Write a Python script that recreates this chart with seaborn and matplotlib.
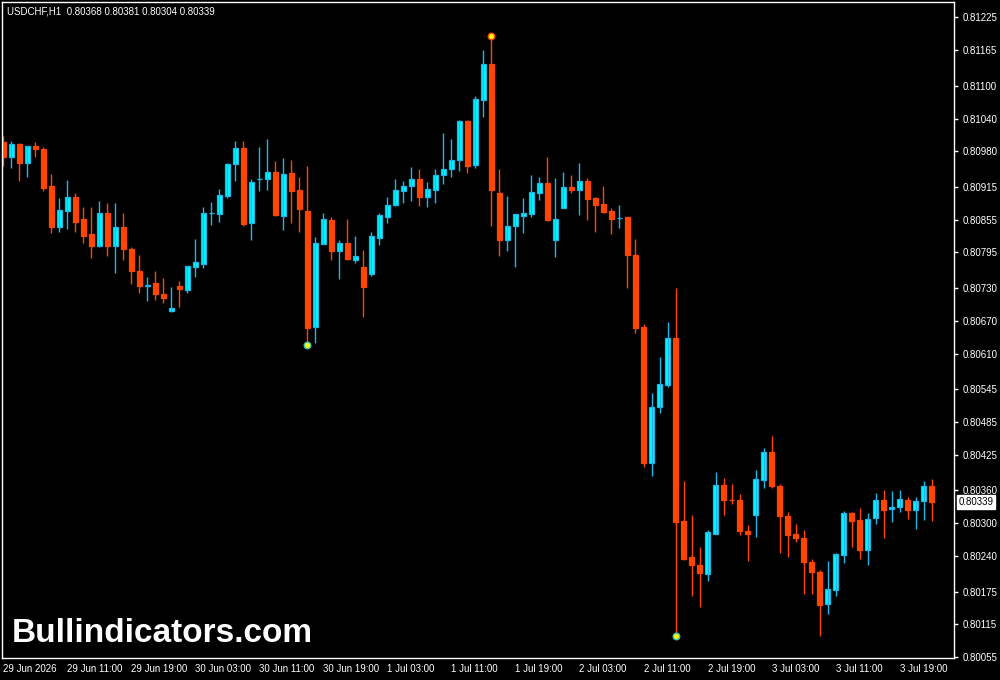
import numpy as np
import pandas as pd
import matplotlib
matplotlib.use("Agg")
import matplotlib.pyplot as plt
import seaborn as sns

# USDCHF H1 candles, 29 Jun 03:00 -> 3 Jul 23:00
symbol = "USDCHF,H1"
first_bar = "2026-06-29 03:00"

opens = [0.80997, 0.80969, 0.80994, 0.80959, 0.80989, 0.80985, 0.80916, 0.80842, 0.80871, 0.80896,
         0.80856, 0.80828, 0.80807, 0.80867, 0.80807, 0.80841, 0.80801, 0.80762, 0.80734, 0.80739,
         0.80720, 0.80688, 0.80733, 0.80727, 0.80769, 0.80774, 0.80867, 0.80865, 0.80898, 0.80957,
         0.80986, 0.80849, 0.80929, 0.80929, 0.80942, 0.80862, 0.80940, 0.80909, 0.80870, 0.80659,
         0.80811, 0.80854, 0.80798, 0.80812, 0.80782, 0.80768, 0.80756, 0.80822, 0.80860, 0.80882,
         0.80908, 0.80917, 0.80929, 0.80897, 0.80909, 0.80937, 0.80948, 0.80964, 0.81035, 0.80955,
         0.81074, 0.81139, 0.80903, 0.80818, 0.80844, 0.80862, 0.80865, 0.80904, 0.80922, 0.80818,
         0.80876, 0.80914, 0.80909, 0.80925, 0.80895, 0.80883, 0.80870, 0.80858, 0.80859, 0.80790,
         0.80658, 0.80410, 0.80513, 0.80552, 0.80638, 0.80304, 0.80238, 0.80223, 0.80207, 0.80280,
         0.80369, 0.80343, 0.80343, 0.80286, 0.80315, 0.80379, 0.80431, 0.80368, 0.80313, 0.80281,
         0.80273, 0.80229, 0.80211, 0.80152, 0.80178, 0.80242, 0.80318, 0.80305, 0.80251, 0.80310,
         0.80343, 0.80326, 0.80330, 0.80343, 0.80324, 0.80341, 0.80368]
highs = [0.81008, 0.80998, 0.80996, 0.80990, 0.80997, 0.80987, 0.80938, 0.80894, 0.80927, 0.80903,
         0.80878, 0.80878, 0.80889, 0.80885, 0.80885, 0.80867, 0.80805, 0.80790, 0.80750, 0.80761,
         0.80748, 0.80731, 0.80742, 0.80770, 0.80819, 0.80878, 0.80887, 0.80912, 0.80958, 0.80998,
         0.80998, 0.80930, 0.80987, 0.81002, 0.80962, 0.80967, 0.80965, 0.80933, 0.80954, 0.80823,
         0.80868, 0.80859, 0.80817, 0.80856, 0.80826, 0.80799, 0.80832, 0.80867, 0.80896, 0.80929,
         0.80925, 0.80951, 0.80947, 0.80923, 0.80947, 0.81013, 0.81002, 0.81037, 0.81037, 0.81081,
         0.81166, 0.81190, 0.80947, 0.80898, 0.80865, 0.80894, 0.80936, 0.80933, 0.80969, 0.80931,
         0.80942, 0.80936, 0.80958, 0.80931, 0.80896, 0.80916, 0.80876, 0.80881, 0.80859, 0.80819,
         0.80664, 0.80538, 0.80603, 0.80667, 0.80730, 0.80377, 0.80315, 0.80256, 0.80287, 0.80393,
         0.80382, 0.80371, 0.80353, 0.80296, 0.80397, 0.80437, 0.80459, 0.80371, 0.80320, 0.80298,
         0.80287, 0.80235, 0.80215, 0.80230, 0.80245, 0.80322, 0.80320, 0.80327, 0.80318, 0.80355,
         0.80360, 0.80358, 0.80360, 0.80348, 0.80348, 0.80378, 0.80381]
lows = [0.80953, 0.80950, 0.80926, 0.80933, 0.80970, 0.80908, 0.80831, 0.80833, 0.80838, 0.80833,
        0.80812, 0.80785, 0.80805, 0.80789, 0.80758, 0.80781, 0.80737, 0.80721, 0.80706, 0.80708,
        0.80703, 0.80687, 0.80695, 0.80721, 0.80750, 0.80767, 0.80845, 0.80851, 0.80895, 0.80926,
        0.80844, 0.80817, 0.80908, 0.80909, 0.80861, 0.80837, 0.80849, 0.80833, 0.80625, 0.80630,
        0.80811, 0.80781, 0.80747, 0.80781, 0.80776, 0.80677, 0.80752, 0.80809, 0.80849, 0.80880,
        0.80886, 0.80889, 0.80880, 0.80878, 0.80886, 0.80920, 0.80933, 0.80944, 0.80940, 0.80950,
        0.81043, 0.80844, 0.80789, 0.80798, 0.80769, 0.80831, 0.80860, 0.80891, 0.80853, 0.80787,
        0.80876, 0.80904, 0.80864, 0.80854, 0.80833, 0.80867, 0.80829, 0.80840, 0.80730, 0.80648,
        0.80403, 0.80386, 0.80502, 0.80549, 0.80093, 0.80233, 0.80167, 0.80147, 0.80195, 0.80280,
        0.80315, 0.80335, 0.80279, 0.80231, 0.80275, 0.80364, 0.80364, 0.80246, 0.80238, 0.80266,
        0.80171, 0.80171, 0.80094, 0.80134, 0.80167, 0.80227, 0.80257, 0.80235, 0.80224, 0.80299,
        0.80273, 0.80302, 0.80321, 0.80308, 0.80290, 0.80306, 0.80304]
closes = [0.80970, 0.80994, 0.80959, 0.80989, 0.80984, 0.80913, 0.80842, 0.80872, 0.80896, 0.80851,
          0.80825, 0.80807, 0.80867, 0.80807, 0.80841, 0.80801, 0.80761, 0.80734, 0.80735, 0.80719,
          0.80712, 0.80693, 0.80728, 0.80770, 0.80777, 0.80867, 0.80867, 0.80900, 0.80956, 0.80986,
          0.80848, 0.80923, 0.80929, 0.80942, 0.80863, 0.80938, 0.80907, 0.80874, 0.80656, 0.80812,
          0.80856, 0.80798, 0.80812, 0.80783, 0.80788, 0.80732, 0.80825, 0.80863, 0.80881, 0.80909,
          0.80916, 0.80929, 0.80897, 0.80911, 0.80936, 0.80947, 0.80964, 0.81035, 0.80953, 0.81075,
          0.81139, 0.80909, 0.80818, 0.80844, 0.80865, 0.80867, 0.80905, 0.80922, 0.80854, 0.80857,
          0.80914, 0.80909, 0.80925, 0.80893, 0.80882, 0.80869, 0.80856, 0.80858, 0.80790, 0.80657,
          0.80410, 0.80512, 0.80554, 0.80638, 0.80302, 0.80234, 0.80223, 0.80209, 0.80283, 0.80369,
          0.80343, 0.80342, 0.80286, 0.80280, 0.80380, 0.80431, 0.80368, 0.80313, 0.80279, 0.80273,
          0.80229, 0.80211, 0.80151, 0.80179, 0.80243, 0.80318, 0.80304, 0.80251, 0.80307, 0.80343,
          0.80324, 0.80330, 0.80345, 0.80324, 0.80340, 0.80368, 0.80339]

# bars flagged by the swing-point indicator
swing_high_bars = [61]
swing_low_bars = [38, 84]

price_ticks = [0.81225, 0.81165, 0.81100, 0.81040, 0.80980, 0.80915, 0.80855, 0.80795, 0.80730, 0.80670,
               0.80610, 0.80545, 0.80485, 0.80425, 0.80360, 0.80300, 0.80240, 0.80175, 0.80115, 0.80055]
time_tick_labels = ["29 Jun 2026", "29 Jun 11:00", "29 Jun 19:00", "30 Jun 03:00", "30 Jun 11:00",
                    "30 Jun 19:00", "1 Jul 03:00", "1 Jul 11:00", "1 Jul 19:00", "2 Jul 03:00",
                    "2 Jul 11:00", "2 Jul 19:00", "3 Jul 03:00", "3 Jul 11:00", "3 Jul 19:00"]
watermark = "Bullindicators.com"

df = pd.DataFrame({"time": pd.date_range(first_bar, periods=len(opens), freq="h"),
                   "open": opens, "high": highs, "low": lows, "close": closes})
df["pos"] = np.arange(len(df))
df["bull"] = df["close"] >= df["open"]

BULL = "#00ffff"
BULL_EDGE = "#1ab8e8"
BEAR = "#ff4500"

sns.set_style("dark", {"axes.facecolor": "black", "figure.facecolor": "black",
                       "axes.edgecolor": "white", "text.color": "white",
                       "xtick.color": "white", "ytick.color": "white"})
plt.rcParams["font.family"] = ["Liberation Sans", "DejaVu Sans"]

fig = plt.figure(figsize=(10, 6.8), dpi=100)
ax = fig.add_axes([0.0023, 0.032, 0.9517, 0.965])

wick_cols = np.where(df["bull"], BULL_EDGE, BEAR)
ax.vlines(df["pos"], df["low"], df["high"], colors=wick_cols, linewidth=1)

body_bottom = df[["open", "close"]].min(axis=1)
body_height = (df["close"] - df["open"]).abs()
ax.bar(df["pos"], body_height, bottom=body_bottom, width=0.6,
       color=np.where(df["bull"], BULL, BEAR), edgecolor=wick_cols, linewidth=0.9)

highs_df = df.loc[swing_high_bars]
lows_df = df.loc[swing_low_bars]
sns.scatterplot(x=highs_df["pos"], y=highs_df["high"], ax=ax, s=22, color="#ffff00",
                edgecolor=BEAR, linewidth=1.0, zorder=5)
sns.scatterplot(x=lows_df["pos"], y=lows_df["low"], ax=ax, s=22, color="#ffff00",
                edgecolor="#3cc8b4", linewidth=1.0, zorder=5)

ax.set_xlim(-0.125, 118.8)
ax.set_ylim(0.80053, 0.81253)
ax.set_xlabel("")
ax.set_ylabel("")
ax.grid(False)

ax.yaxis.tick_right()
ax.set_yticks(price_ticks)
ax.set_yticklabels([f"{p:.5f}" for p in price_ticks])
ax.set_xticks(df["pos"][::8])
ax.set_xticklabels(time_tick_labels, ha="left")
ax.tick_params(axis="both", which="both", direction="out", length=3, width=1,
               colors="white", labelsize=7)
ax.tick_params(axis="y", pad=3.5)
ax.tick_params(axis="x", pad=1.5)
for sp in ax.spines.values():
    sp.set_color("white")
    sp.set_linewidth(1)
    sp.set_visible(True)

# current price tag
last = df["close"].iloc[-1]
ax.annotate(f"{last:.5f}", xy=(1, last), xycoords=("axes fraction", "data"),
            xytext=(3.2, 0), textcoords="offset points", va="center", ha="left",
            fontsize=7, color="black",
            bbox=dict(boxstyle="square,pad=0.2", fc="white", ec="white"))

info = f"{symbol}  {opens[-1]:.5f} {highs[-1]:.5f} {lows[-1]:.5f} {closes[-1]:.5f}"
fig.text(0.0073, 1 - 14 / 680, info, fontsize=7, color="white", va="baseline", ha="left")
fig.text(0.0117, 1 - 642 / 680, watermark, fontsize=24, fontweight="bold", color="white",
         va="baseline", ha="left", family=["Liberation Sans", "DejaVu Sans"])

fig.savefig("out.png", dpi=100, facecolor="black")
